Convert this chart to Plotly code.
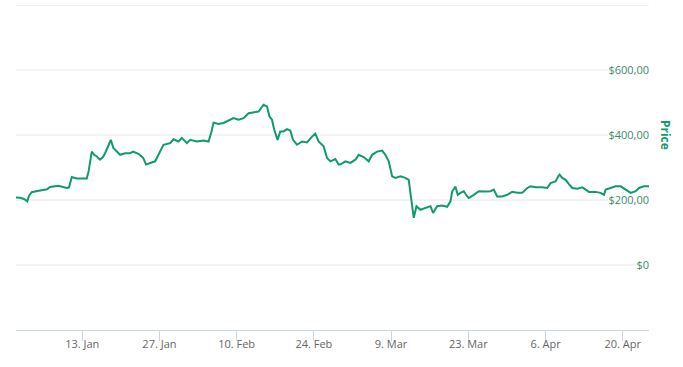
import pandas as pd
import plotly.graph_objects as go

# ---- data ----
start_date = "2020-01-01"
day_offsets = [0.00, 0.73, 1.45, 2.05, 2.36, 2.85, 3.63, 4.95, 5.63, 6.17, 6.90, 7.68, 8.35, 9.20, 9.62,
               10.11, 11.02, 11.80, 12.83, 13.16, 13.74, 14.16, 14.65, 15.25, 15.79, 16.15, 16.75, 17.19,
               17.66, 18.28, 18.87, 19.78, 20.69, 21.23, 22.20, 23.05, 23.59, 24.32, 25.23, 25.83, 26.73,
               27.95, 28.55, 29.46, 30.07, 30.98, 31.58, 32.80, 34.00, 34.90, 35.39, 35.81, 36.72, 37.62,
               38.53, 39.44, 40.34, 41.25, 42.16, 43.07, 43.97, 44.88, 45.50, 45.97, 46.41, 46.82, 47.42,
               47.91, 48.51, 49.13, 49.73, 50.22, 50.94, 51.85, 52.76, 53.67, 54.26, 54.86, 55.77, 56.39,
               56.99, 57.89, 58.49, 58.80, 59.71, 60.62, 61.52, 62.12, 63.03, 63.94, 64.56, 65.46, 66.37,
               66.97, 67.57, 68.19, 68.78, 69.69, 70.60, 71.20, 71.51, 71.82, 72.11, 72.60, 73.32, 74.23,
               75.14, 75.62, 76.35, 77.26, 78.17, 78.77, 79.07, 79.67, 80.09, 80.58, 81.18, 81.80, 82.09,
               83.00, 83.90, 85.12, 86.03, 86.62, 87.24, 88.15, 89.06, 89.96, 90.87, 91.78, 92.69, 93.28,
               94.19, 95.41, 96.32, 96.91, 97.82, 98.31, 98.55, 99.04, 99.64, 100.24, 100.85, 101.76,
               102.67, 103.27, 103.87, 105.08, 105.99, 106.59, 106.90, 107.80, 108.71, 109.62, 110.53,
               111.43, 112.34, 112.94, 113.85, 114.76]
prices = [208, 207, 203, 196, 213, 224, 227, 230, 233, 240, 243, 244, 241, 237, 239,
          271, 266, 267, 266, 288, 349, 339, 334, 324, 333, 344, 365, 385,
          360, 349, 339, 344, 344, 349, 342, 330, 309, 314, 319, 339, 370,
          375, 387, 380, 391, 375, 385, 380, 383, 380, 407, 438, 434, 437,
          445, 452, 447, 452, 467, 469, 472, 493, 488, 457, 447, 416, 385,
          411, 411, 418, 414, 385, 370, 380, 377, 395, 404, 380, 365, 329,
          319, 326, 309, 309, 319, 314, 324, 339, 332, 319, 339, 349, 352,
          339, 319, 273, 268, 273, 268, 262, 211, 181, 145, 181, 170, 176,
          181, 160, 181, 183, 179, 196, 226, 241, 216, 222, 227, 211, 206,
          216, 227, 226, 227, 232, 211, 211, 216, 225, 222, 222, 237, 242,
          239, 239, 237, 252, 257, 273, 278, 268, 262, 249, 237, 235,
          239, 232, 225, 225, 222, 216, 232, 237, 242, 242, 232,
          222, 227, 237, 242, 242]

x_tick_dates = ["2020-01-13", "2020-01-27", "2020-02-10", "2020-02-24",
                "2020-03-09", "2020-03-23", "2020-04-06", "2020-04-20"]
x_tick_labels = ["13. Jan", "27. Jan", "10. Feb", "24. Feb",
                 "9. Mar", "23. Mar", "6. Apr", "20. Apr"]
y_tick_values = [0, 200, 400, 600, 800]
y_tick_labels = ["$0", "$200,00", "$400,00", "$600,00", ""]
y_axis_title = "Price"

# ---- figure ----
dates = pd.Timestamp(start_date) + pd.to_timedelta(day_offsets, unit="D")

GREEN = "#0f9b6e"
LABEL_GREEN = "#3a8c6c"

fig = go.Figure()
fig.add_trace(go.Scatter(x=dates, y=prices, mode="lines",
                         line=dict(color=GREEN, width=2), name="Price",
                         hoverinfo="x+y"))

# grid lines stop where the labels (drawn inside the plot) begin
grid_ends = [0.979, 0.935, 0.935, 0.935, 1.0]
for v, e in zip(y_tick_values, grid_ends):
    fig.add_shape(type="line", xref="x domain", yref="y", x0=0, x1=e, y0=v, y1=v,
                  line=dict(color="#e6e6e6", width=1), layer="below")

fig.add_annotation(text="<b>" + y_axis_title + "</b>", xref="paper", yref="paper",
                   x=1.027, y=0.6, xanchor="center", yanchor="middle",
                   showarrow=False, textangle=90,
                   font=dict(family="Open Sans", size=12, color=GREEN))

fig.update_layout(
    width=683, height=367,
    margin=dict(l=16, r=34, t=5, b=37),
    plot_bgcolor="white", paper_bgcolor="white",
    showlegend=False,
    font=dict(family="Open Sans"),
    xaxis=dict(
        range=[dates[0], dates[-1]],
        tickvals=pd.to_datetime(x_tick_dates), ticktext=x_tick_labels,
        showgrid=False, zeroline=False, automargin=False,
        showline=True, linecolor="#ccd6eb", linewidth=1,
        ticks="outside", ticklen=10, tickcolor="#ccd6eb",
        ticklabelstandoff=-6,
        tickfont=dict(family="Open Sans", size=11, color="#666666"),
    ),
    # axis sits on the right edge of the plot; labels hang to its left (inside the plot)
    yaxis=dict(
        range=[-200, 800], side="left",
        anchor="free", position=1,
        tickvals=y_tick_values, ticktext=y_tick_labels,
        showgrid=False, zeroline=False, showline=False, ticks="",
        automargin=False,
        tickfont=dict(family="Open Sans", size=11, color=LABEL_GREEN),
    ),
)

fig.write_html("out.html", config={"displayModeBar": False},
               post_script="document.body.style.margin='0px';")
